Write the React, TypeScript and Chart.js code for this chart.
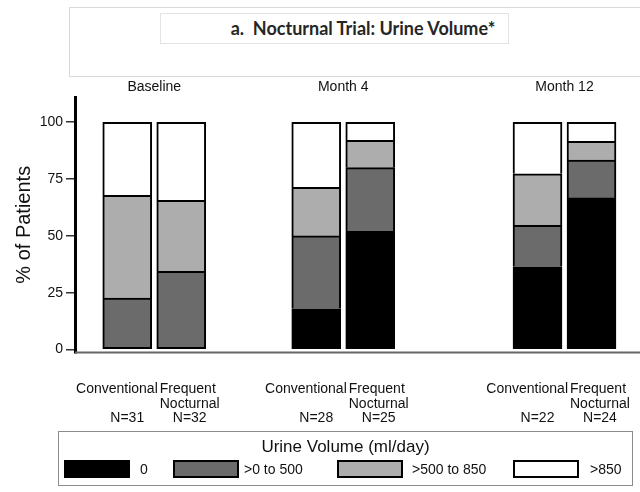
import React, { useEffect, useRef, useState } from "react";
import { Chart, registerables } from "chart.js";

Chart.register(...registerables);

// ---------- data ----------
const groups = ["Baseline", "Month 4", "Month 12"];
const armLabels = ["Conventional", "Frequent Nocturnal"];
const nConventional = [31, 28, 22];
const nFrequent = [32, 25, 24];
const volumeCategories = ["0", ">0 to 500", ">500 to 850", ">850"];
// % of patients; bar order: Baseline Conv, Baseline Freq, M4 Conv, M4 Freq, M12 Conv, M12 Freq
const pctZero = [0, 0, 17.9, 52.0, 36.4, 66.7];
const pctUpTo500 = [22.6, 34.4, 32.1, 28.0, 18.2, 16.6];
const pct500to850 = [45.2, 31.2, 21.4, 12.0, 22.7, 8.3];
const pctOver850 = [32.2, 34.4, 28.6, 8.0, 22.7, 8.4];
const yTicks = [0, 25, 50, 75, 100];

// ---------- layout / style ----------
const W = 640;
const H = 492;
const AXIS_SPAN = 565; // x axis units
const GROUP_CENTER = [79.25, 268.25, 489.5];
const PAIR_HALF = 27;
const BAR_W = 49;
const FILLS = ["#000000", "#6b6b6b", "#adadad", "#ffffff"];
const FONT = "'Liberation Sans', Arial, sans-serif";
const LEGEND_BOX_LEFT = [64, 173, 337, 513];
const LEGEND_TEXT_LEFT = [140, 244, 412, 590];

const series = [pctZero, pctUpTo500, pct500to850, pctOver850];
const barX = (i: number) =>
  GROUP_CENTER[i >> 1] + ((i & 1) === 1 ? PAIR_HALF : -PAIR_HALF);
const barCount = pctZero.length;
// index of the lowest non-empty segment of each bar (gets a bottom border too)
const lowestSeg = pctZero.map((_, i) => series.findIndex((s) => s[i] > 0));

const noPad = (s: any) => {
  s.paddingLeft = 0;
  s.paddingRight = 0;
  s.paddingTop = 0;
  s.paddingBottom = 0;
};

// draws the baseline of the horizontal axis along the bottom of the chart area
const xAxisLine = {
  id: "xAxisLine",
  afterDraw(chart: any) {
    const a = chart.chartArea;
    const ctx = chart.ctx;
    ctx.save();
    ctx.strokeStyle = "#666666";
    ctx.lineWidth = 2;
    ctx.beginPath();
    ctx.moveTo(a.left, a.bottom);
    ctx.lineTo(a.right, a.bottom);
    ctx.stroke();
    ctx.restore();
  },
};

export default function App() {
  const canvasRef = useRef<HTMLCanvasElement | null>(null);
  const [px, setPx] = useState<number[] | null>(null);

  useEffect(() => {
    if (!canvasRef.current) return;
    const chart = new Chart(canvasRef.current, {
      type: "bar",
      data: {
        datasets: volumeCategories.map((label, k) => ({
          label,
          data: series[k].map((v, i) => ({ x: barX(i), y: v })),
          backgroundColor: FILLS[k],
          borderColor: "#000000",
          borderWidth: 2,
          borderSkipped: (ctx: any) =>
            lowestSeg[ctx.dataIndex] === ctx.datasetIndex ? false : "start",
          barThickness: BAR_W,
        })),
      },
      plugins: [xAxisLine],
      options: {
        animation: false,
        responsive: false,
        maintainAspectRatio: false,
        layout: { padding: 0 },
        plugins: {
          legend: { display: false },
          tooltip: { enabled: false },
          title: { display: false },
        },
        scales: {
          x: {
            type: "linear",
            position: "bottom",
            min: 0,
            max: AXIS_SPAN,
            offset: false,
            stacked: true,
            ticks: { display: false },
            grid: { display: false, offset: false },
            border: { display: false },
            afterFit: (s: any) => {
              noPad(s);
              s.height = 139.5;
            },
          },
          xTop: {
            type: "linear",
            position: "top",
            min: 0,
            max: AXIS_SPAN,
            offset: false,
            afterBuildTicks: (s: any) => {
              s.ticks = GROUP_CENTER.map((v) => ({ value: v }));
            },
            ticks: {
              autoSkip: false,
              maxRotation: 0,
              padding: 1,
              color: "#111111",
              font: { family: FONT, size: 14 },
              callback: (_v: any, i: number) => groups[i],
            },
            grid: { display: false, drawTicks: false, offset: false },
            border: { display: false },
            afterFit: (s: any) => {
              noPad(s);
              s.height = 97;
            },
          },
          y: {
            type: "linear",
            min: -1.3,
            max: 111.1,
            stacked: true,
            afterBuildTicks: (s: any) => {
              s.ticks = yTicks.map((v) => ({ value: v }));
            },
            afterFit: (s: any) => {
              s.width = 75;
            },
            ticks: {
              padding: 3,
              color: "#111111",
              font: { family: FONT, size: 14 },
            },
            grid: {
              display: true,
              drawOnChartArea: false,
              drawTicks: true,
              tickLength: 9,
              color: "#333333",
              lineWidth: 1.5,
            },
            border: { display: true, color: "#000000", width: 3 },
            title: {
              display: true,
              text: "% of Patients",
              color: "#111111",
              font: { family: FONT, size: 20 },
              padding: { top: 12, bottom: 0 },
            },
          },
        },
      },
    } as any);
    const xs = chart.scales.x;
    const arr: number[] = [];
    for (let i = 0; i < barCount; i++) arr.push(xs.getPixelForValue(barX(i)));
    setPx(arr);
    return () => chart.destroy();
  }, []);

  const textStyle: React.CSSProperties = {
    position: "absolute",
    fontFamily: FONT,
    fontSize: 14,
    lineHeight: "14.5px",
    color: "#111",
    whiteSpace: "nowrap",
  };

  return (
    <div
      style={{
        position: "fixed",
        left: 0,
        top: 0,
        width: W,
        height: H,
        background: "#fff",
        overflow: "hidden",
      }}
    >
      {/* header boxes */}
      <div
        style={{
          position: "absolute",
          left: 69,
          top: 7,
          width: 600,
          height: 68,
          border: "1px solid #d9d9d9",
        }}
      />
      <div
        style={{
          position: "absolute",
          left: 160,
          top: 13,
          width: 347,
          height: 29,
          border: "1px solid #e3e3e3",
        }}
      />
      <div
        style={{
          position: "absolute",
          left: 163,
          top: 17,
          width: 400,
          textAlign: "center",
          fontFamily: "Lato, 'Open Sans', sans-serif",
          fontWeight: 700,
          fontSize: 18,
          lineHeight: "22px",
          color: "#262626",
          whiteSpace: "pre",
        }}
      >
        {"a.  Nocturnal Trial: Urine Volume*"}
      </div>

      <canvas
        ref={canvasRef}
        width={W}
        height={H}
        style={{ position: "absolute", left: 0, top: 0, width: W, height: H }}
      />

      {/* arm / N labels under each bar pair */}
      {px &&
        groups.map((g, gi) => {
          const convC = px[gi * 2];
          const freqC = px[gi * 2 + 1];
          const freqLeft = freqC - BAR_W / 2;
          const words = armLabels[1].split(" ");
          return (
            <React.Fragment key={g}>
              <div
                style={{
                  ...textStyle,
                  left: freqLeft + 1 - 200,
                  width: 200,
                  top: 381,
                  textAlign: "right",
                }}
              >
                {armLabels[0]}
              </div>
              <div
                style={{
                  ...textStyle,
                  left: convC - 50,
                  width: 100,
                  top: 410,
                  textAlign: "center",
                }}
              >
                {"N=" + nConventional[gi]}
              </div>
              <div
                style={{
                  ...textStyle,
                  left: freqLeft + 3,
                  top: 381,
                  display: "inline-block",
                }}
              >
                <div>{words[0]}</div>
                <div>{words[1]}</div>
                <div style={{ textAlign: "center" }}>{"N=" + nFrequent[gi]}</div>
              </div>
            </React.Fragment>
          );
        })}

      {/* legend */}
      <div
        style={{
          position: "absolute",
          left: 58,
          top: 431,
          width: 573,
          height: 53,
          border: "1.5px solid #8c8c8c",
        }}
      />
      <div
        style={{
          position: "absolute",
          left: 58,
          width: 575,
          top: 437,
          textAlign: "center",
          fontFamily: FONT,
          fontSize: 17,
          lineHeight: "20px",
          color: "#111",
        }}
      >
        Urine Volume (ml/day)
      </div>
      {volumeCategories.map((c, k) => (
        <React.Fragment key={c}>
          <div
            style={{
              position: "absolute",
              left: LEGEND_BOX_LEFT[k],
              top: 460,
              width: 66,
              height: 18,
              boxSizing: "border-box",
              background: FILLS[k],
              border: "2px solid #000",
            }}
          />
          <div
            style={{
              position: "absolute",
              left: LEGEND_TEXT_LEFT[k],
              top: 461,
              fontFamily: FONT,
              fontSize: 14,
              lineHeight: "16px",
              color: "#111",
              whiteSpace: "nowrap",
            }}
          >
            {c}
          </div>
        </React.Fragment>
      ))}
    </div>
  );
}
